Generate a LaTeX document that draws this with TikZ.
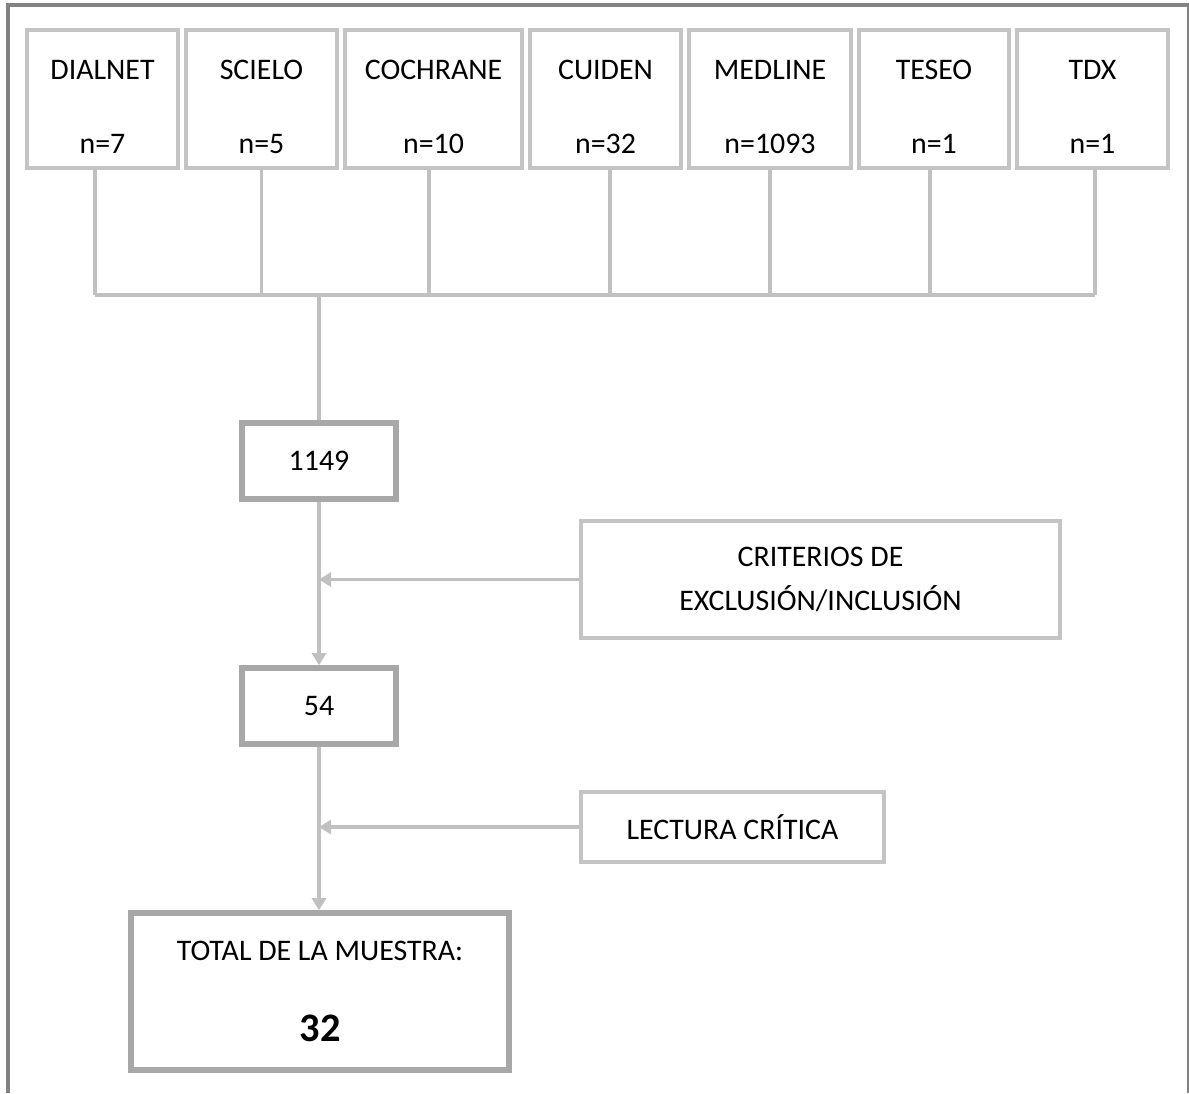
\documentclass[tikz,border=0pt]{standalone}
\usepackage{fontspec}
\setmainfont{Carlito}
\usepackage{tikz}
\usetikzlibrary{arrows.meta}
\definecolor{boxgray}{HTML}{C4C4C4}
\definecolor{maingray}{HTML}{A8A8A8}
\definecolor{framegray}{HTML}{828282}
\definecolor{linegray}{HTML}{C0C0C0}

\begin{document}
\begin{tikzpicture}[
    x=0.02cm, y=-0.02cm,
    every node/.style={font=\fontsize{17}{20}\selectfont, text=black},
    source/.style={rectangle, draw=boxgray, line width=2.4pt, fill=white,
                   minimum height=2.76cm, inner sep=0pt, align=center},
    stage/.style={rectangle, draw=maingray, line width=3.2pt, fill=white,
                  minimum width=3.08cm, minimum height=1.52cm, inner sep=0pt},
    filter/.style={rectangle, draw=boxgray, line width=2.6pt, fill=white,
                   inner sep=0pt, align=center, font=\fontsize{17}{25.5}\selectfont},
    link/.style={draw=linegray, line width=1.9pt},
    arr/.style={link, -{Triangle[length=0.24cm, width=0.28cm]}},
    frame/.style={draw=framegray, line width=1.8pt}
]
\useasboundingbox (0,0) rectangle (1189,1093);
% outer frame
\draw[frame] (8,1093) -- (8,5) -- (1189,5);
\draw[frame, line width=0.8pt] (1188,5) -- (1188,1093);

% databases
\node[source, minimum width=3.02cm] (dialnet)  at (102.5,99) {\rule{0pt}{20pt}DIALNET\\[22pt]n=7};
\node[source, minimum width=3.02cm] (scielo)   at (261.5,99) {\rule{0pt}{20pt}SCIELO\\[22pt]n=5};
\node[source, minimum width=3.54cm] (cochrane) at (433.5,99) {\rule{0pt}{20pt}COCHRANE\\[22pt]n=10};
\node[source, minimum width=3.02cm] (cuiden)   at (605.5,99) {\rule{0pt}{20pt}CUIDEN\\[22pt]n=32};
\node[source, minimum width=3.24cm] (medline)  at (770,99)   {\rule{0pt}{20pt}MEDLINE\\[22pt]n=1093};
\node[source, minimum width=3.00cm] (teseo)    at (934,99)   {\rule{0pt}{20pt}TESEO\\[22pt]n=1};
\node[source, minimum width=3.02cm] (tdx)      at (1092.5,99) {\rule{0pt}{20pt}TDX\\[22pt]n=1};

% collecting bus
\coordinate (bus) at (319,295);
\draw[link] ([xshift=-0.15cm]dialnet.south) -- ([xshift=-0.15cm]dialnet.south |- bus);
\draw[link] (scielo.south)   -- (scielo.south |- bus);
\draw[link] ([xshift=-0.09cm]cochrane.south) -- ([xshift=-0.09cm]cochrane.south |- bus);
\draw[link] ([xshift=0.09cm]cuiden.south)   -- ([xshift=0.09cm]cuiden.south |- bus);
\draw[link] (medline.south)  -- (medline.south |- bus);
\draw[link] ([xshift=-0.08cm]teseo.south)    -- ([xshift=-0.08cm]teseo.south |- bus);
\draw[link] ([xshift=0.05cm]tdx.south)      -- ([xshift=0.05cm]tdx.south |- bus);
\draw[link] ([xshift=-0.15cm]dialnet.south |- bus) -- ([xshift=0.05cm]tdx.south |- bus);

% selection steps
\node[stage] (found)    at (319,461) {1149};
\node[stage] (selected) at (319,706) {54};
\node[stage, minimum width=7.56cm, minimum height=3.14cm, align=center,
      font=\fontsize{17}{46}\selectfont] (total) at (320,991.5)
    {TOTAL DE LA MUESTRA:\\{\fontsize{23}{46}\selectfont\bfseries 32}};
\node[filter, minimum width=9.58cm, minimum height=2.34cm] (criteria)
    at (820.5,579.5) {CRITERIOS DE\\EXCLUSIÓN/INCLUSIÓN};
\node[filter, minimum width=6.06cm, minimum height=1.4cm] (reading)
    at (732.5,827) {LECTURA CRÍTICA};

\draw[link] (bus) -- (found.north);
\draw[arr] (found.south) -- (selected.north);
\draw[arr] (selected.south) -- (total.north -| selected.south);
\draw[arr] (criteria.west) -- (criteria.west -| found.south);
\draw[arr] (reading.west) -- (reading.west -| selected.south);
\end{tikzpicture}
\end{document}
